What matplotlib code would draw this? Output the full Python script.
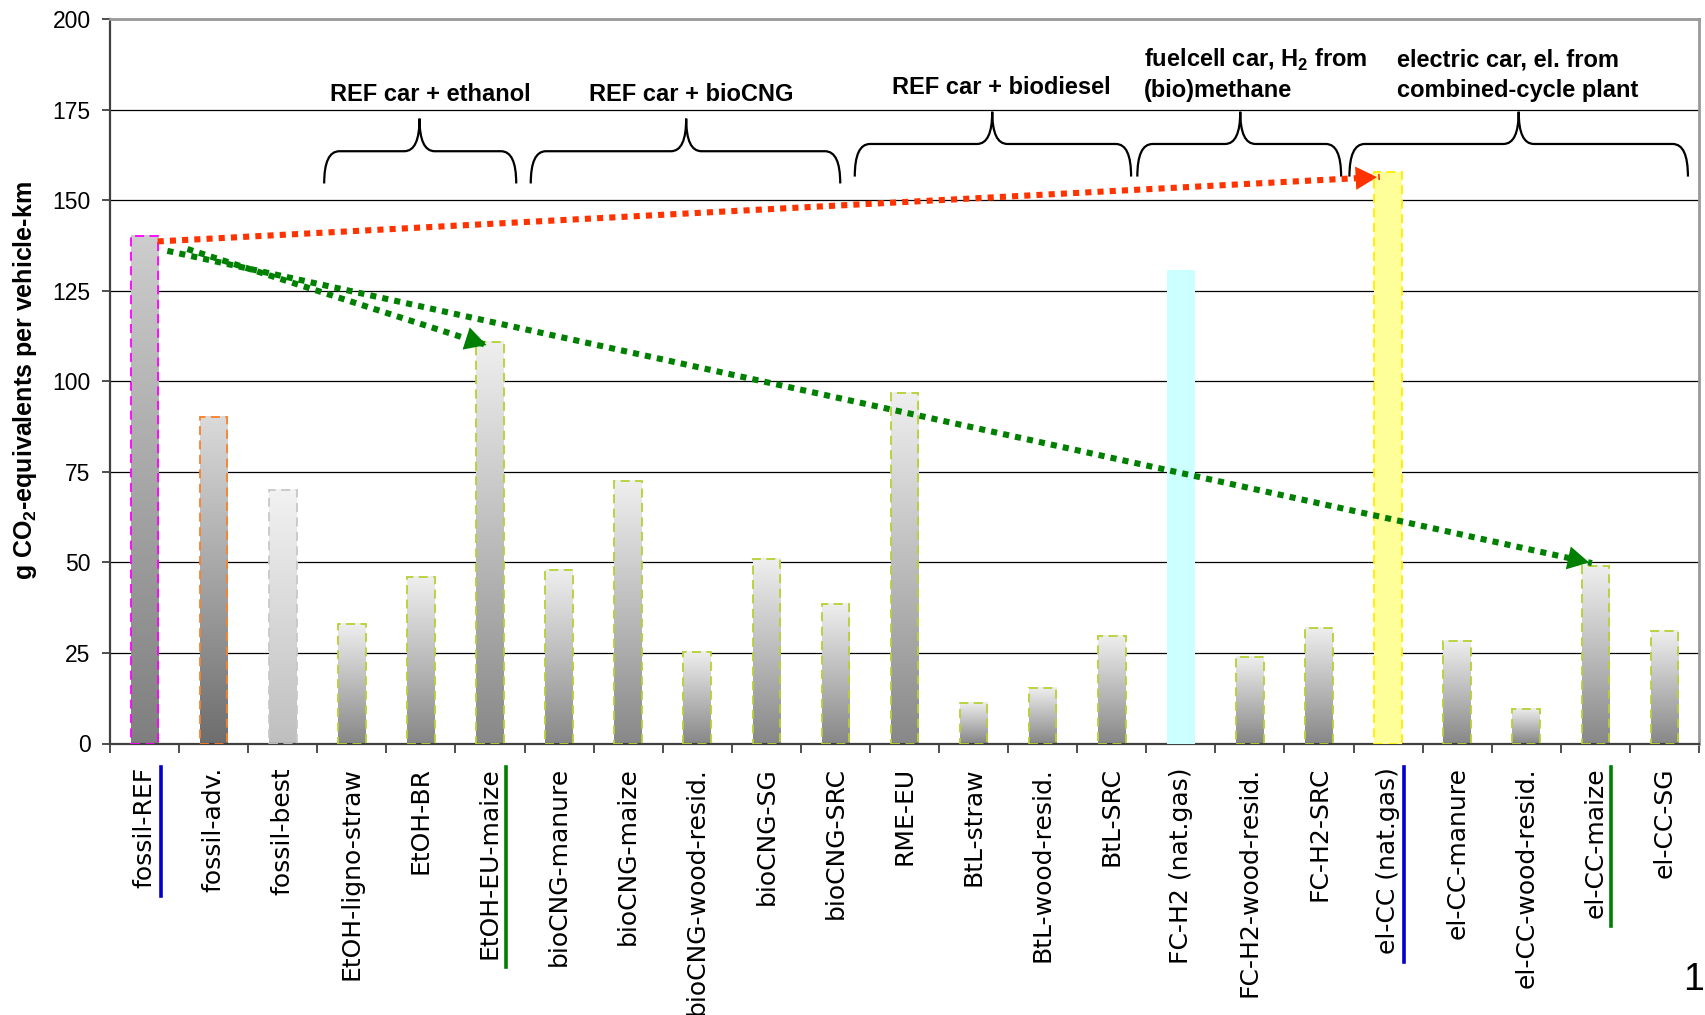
import numpy as np
import matplotlib
matplotlib.use('Agg')
import matplotlib.pyplot as plt
from matplotlib.colors import LinearSegmentedColormap
from matplotlib.path import Path
from matplotlib.patches import PathPatch, FancyArrowPatch
from matplotlib.lines import Line2D

# data (g CO2-eq per vehicle-km)
categories = ['fossil-REF', 'fossil-adv.', 'fossil-best', 'EtOH-ligno-straw', 'EtOH-BR',
              'EtOH-EU-maize', 'bioCNG-manure', 'bioCNG-maize', 'bioCNG-wood-resid.',
              'bioCNG-SG', 'bioCNG-SRC', 'RME-EU', 'BtL-straw', 'BtL-wood-resid.',
              'BtL-SRC', 'FC-H2 (nat.gas)', 'FC-H2-wood-resid.', 'FC-H2-SRC',
              'el-CC (nat.gas)', 'el-CC-manure', 'el-CC-wood-resid.', 'el-CC-maize',
              'el-CC-SG']
co2_per_km = [140, 90, 70, 33, 46, 110.7, 48, 72.4, 25.2, 51, 38.4, 96.7, 11.1, 15.3,
              29.7, 130.6, 24, 31.8, 157.7, 28.3, 9.4, 48.9, 31.0]
yticks = [0, 25, 50, 75, 100, 125, 150, 175, 200]

group_titles = ['REF car + ethanol', 'REF car + bioCNG', 'REF car + biodiesel',
                'fuelcell car, H$_\\mathbf{2}$ from\n(bio)methane',
                'electric car, el. from\ncombined-cycle plant']

plt.rcParams['font.family'] = ['Liberation Sans', 'DejaVu Sans']
plt.rcParams['mathtext.fontset'] = 'custom'
plt.rcParams['mathtext.rm'] = 'Liberation Sans'
plt.rcParams['mathtext.bf'] = 'Liberation Sans:bold'

W, H = 1705, 1015
fig = plt.figure(figsize=(W / 100, H / 100), dpi=100)
ax = fig.add_axes([110 / W, 1 - 743.5 / H, (1699 - 110) / W, (743.5 - 19) / H])

# bar fills: gradient (top colour, bottom colour) or flat
gradients = {
    'ref': ('#cdcdcd', '#7f7f7f'),
    'adv': ('#dadada', '#6e6e6e'),
    'best': ('#f2f2f2', '#bfbfbf'),
    'bio': ('#efefef', '#888888'),
}
bar_style = {
    'fossil-REF': ('ref', '#ff00ff'),
    'fossil-adv.': ('adv', '#ff7f27'),
    'fossil-best': ('best', '#c8c8c8'),
    'FC-H2 (nat.gas)': ('#ccffff', 'none'),
    'el-CC (nat.gas)': ('#ffff99', '#ffee00'),
}
width = 0.4
for i, (name, val) in enumerate(zip(categories, co2_per_km)):
    fill, edge = bar_style.get(name, ('bio', '#b4d232'))
    x0 = i - width / 2
    if fill in gradients:
        top, bottom = gradients[fill]
        cmap = LinearSegmentedColormap.from_list(fill, [bottom, top])
        ax.imshow(np.linspace(0, 1, 256).reshape(-1, 1), cmap=cmap, origin='lower',
                  extent=[x0, x0 + width, 0, val], aspect='auto', zorder=2)
        face = 'none'
    else:
        face = fill
    ax.bar(i, val, width=width, facecolor=face, edgecolor=edge, linewidth=1.3,
           linestyle=(0, (5, 3)), zorder=3)

ax.set_xlim(-0.5, len(categories) - 0.5)
ax.set_ylim(0, 200)
ax.set_yticks(yticks)
ax.set_yticklabels([str(t) for t in yticks], fontsize=16.5)
ax.yaxis.grid(True, color='black', linewidth=0.9)
ax.set_axisbelow(True)

ax.set_xticks(range(len(categories)))
ax.set_xticklabels(categories, rotation=90, fontsize=18, family='DejaVu Sans')
ax.set_xticks(np.arange(-0.5, len(categories)), minor=True)
ax.tick_params(axis='x', which='major', length=0, pad=17)
ax.tick_params(axis='x', which='minor', length=6.5, width=1.3, color='#404040')
ax.tick_params(axis='y', length=6, width=1.3, color='#404040', pad=8)

for side in ['left', 'bottom']:
    ax.spines[side].set_color('#404040')
    ax.spines[side].set_linewidth(1.6)
for side in ['top', 'right']:
    ax.spines[side].set_color('#999999')
    ax.spines[side].set_linewidth(2.0)

fig.text(25 / W, 1 - 381 / H, 'g CO$_\\mathbf{2}$-equivalents per vehicle-km', rotation=90,
         ha='center', va='center', fontsize=18, fontweight='bold')

# curly braces over the groups
def draw_brace(x0, x1, xm, yb, yh, yc, r=0.22):
    verts = [(x0, yb), (x0, yh), (x0 + r, yh), (xm - r, yh), (xm, yh), (xm, yc),
             (xm, yh), (xm + r, yh), (x1 - r, yh), (x1, yh), (x1, yb)]
    codes = [Path.MOVETO, Path.CURVE3, Path.CURVE3, Path.LINETO, Path.CURVE3, Path.CURVE3,
             Path.CURVE3, Path.CURVE3, Path.LINETO, Path.CURVE3, Path.CURVE3]
    ax.add_patch(PathPatch(Path(verts, codes), facecolor='none', edgecolor='black',
                           linewidth=1.6, zorder=4))

draw_brace(2.60, 5.38, 3.98, 154.6, 163.5, 172.5)
draw_brace(5.59, 10.07, 7.84, 154.6, 163.5, 172.5)
draw_brace(10.28, 14.28, 12.27, 156.5, 165.5, 174.4)
draw_brace(14.37, 17.32, 15.86, 156.5, 165.5, 174.4)
draw_brace(17.44, 22.34, 19.89, 156.5, 165.5, 174.4)

title_kw = dict(fontsize=17, fontweight='bold', va='baseline', zorder=4)
ax.text(4.14, 177.3, group_titles[0], ha='center', **title_kw)
ax.text(7.92, 177.3, group_titles[1], ha='center', **title_kw)
ax.text(12.4, 179.4, group_titles[2], ha='center', **title_kw)
for x, title in [(14.47, group_titles[3]), (18.13, group_titles[4])]:
    line1, line2 = title.split('\n')
    ax.text(x, 186.8, line1, ha='left', **title_kw)
    ax.text(x, 178.4, line2, ha='left', **title_kw)

# dotted arrows
def dotted_arrow(start, end, color):
    ax.plot([start[0], end[0]], [start[1], end[1]], color=color, linewidth=4.4,
            linestyle=(0, (1, 1)), dash_capstyle='butt', zorder=5)
    back = (end[0] - 0.01 * (end[0] - start[0]), end[1] - 0.01 * (end[1] - start[1]))
    ax.add_patch(FancyArrowPatch(back, end, arrowstyle='-|>,head_length=1.1,head_width=0.6',
                                 mutation_scale=14, color=color, linewidth=0, zorder=6))

dotted_arrow((0.19, co2_per_km[0] - 1.4), (17.88, co2_per_km[18] - 1.3), '#ff3300')
dotted_arrow((0.62, co2_per_km[0] - 3.5), (4.95, co2_per_km[5] - 0.7), '#008000')
dotted_arrow((0.33, co2_per_km[0] - 4.0), (20.95, co2_per_km[21] + 0.9), '#008000')

# coloured marker lines beside some category labels
fig.canvas.draw()
renderer = fig.canvas.get_renderer()
marks = {'fossil-REF': '#0000cc', 'EtOH-EU-maize': '#008000',
         'el-CC (nat.gas)': '#0000cc', 'el-CC-maize': '#008000'}
for lbl in ax.get_xticklabels():
    if lbl.get_text() in marks:
        bb = lbl.get_window_extent(renderer)
        x = bb.x1 + 4
        fig.add_artist(Line2D([x / W, x / W], [bb.y1 / H, (bb.y0 - 8) / H],
                              transform=fig.transFigure, color=marks[lbl.get_text()],
                              linewidth=2.6))

fig.text(1683 / W, 1 - 990 / H, '1', fontsize=27, ha='left', va='baseline')

fig.savefig('out.png', dpi=100)
